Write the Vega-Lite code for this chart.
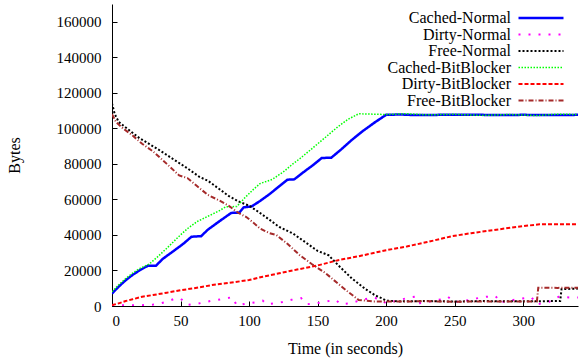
{
  "$schema": "https://vega.github.io/schema/vega-lite/v6.json",
  "width": 466,
  "height": 302,
  "autosize": {"type": "none"},
  "padding": {"left": 112, "top": 4, "right": 1, "bottom": 54},
  "background": "white",
  "config": {
    "view": {"stroke": null},
    "font": "Liberation Serif",
    "axis": {
      "grid": false,
      "domainColor": "black",
      "domainWidth": 1,
      "tickColor": "black",
      "labelFont": "Liberation Serif",
      "labelFontSize": 15,
      "labelColor": "black",
      "titleFont": "Liberation Serif",
      "titleFontSize": 16,
      "titleFontWeight": "normal",
      "titleColor": "black"
    },
    "legend": {
      "labelFont": "Liberation Serif",
      "labelFontSize": 16,
      "labelColor": "black"
    }
  },
  "datasets": {
    "mem": [
      {"s": "Cached-Normal", "t": 0, "v": 7000}, {"s": "Cached-Normal", "t": 5, "v": 11000}, {"s": "Cached-Normal", "t": 10, "v": 14500}, {"s": "Cached-Normal", "t": 15, "v": 17500}, {"s": "Cached-Normal", "t": 20, "v": 20000}, {"s": "Cached-Normal", "t": 26, "v": 22600}, {"s": "Cached-Normal", "t": 32, "v": 22600}, {"s": "Cached-Normal", "t": 37, "v": 26500}, {"s": "Cached-Normal", "t": 45, "v": 31000}, {"s": "Cached-Normal", "t": 52, "v": 35000}, {"s": "Cached-Normal", "t": 58, "v": 39000}, {"s": "Cached-Normal", "t": 65, "v": 39300}, {"s": "Cached-Normal", "t": 70, "v": 43000}, {"s": "Cached-Normal", "t": 78, "v": 47500}, {"s": "Cached-Normal", "t": 87, "v": 52400}, {"s": "Cached-Normal", "t": 93, "v": 52600}, {"s": "Cached-Normal", "t": 96, "v": 55500}, {"s": "Cached-Normal", "t": 102, "v": 56100}, {"s": "Cached-Normal", "t": 108, "v": 59100}, {"s": "Cached-Normal", "t": 115, "v": 63000}, {"s": "Cached-Normal", "t": 122, "v": 67400}, {"s": "Cached-Normal", "t": 128, "v": 71100}, {"s": "Cached-Normal", "t": 133, "v": 71300}, {"s": "Cached-Normal", "t": 140, "v": 75500}, {"s": "Cached-Normal", "t": 147, "v": 79500}, {"s": "Cached-Normal", "t": 153, "v": 83300}, {"s": "Cached-Normal", "t": 160, "v": 83500}, {"s": "Cached-Normal", "t": 167, "v": 88000}, {"s": "Cached-Normal", "t": 175, "v": 93500}, {"s": "Cached-Normal", "t": 183, "v": 98500}, {"s": "Cached-Normal", "t": 192, "v": 103500}, {"s": "Cached-Normal", "t": 200, "v": 107600}, {"s": "Cached-Normal", "t": 210, "v": 107800}, {"s": "Cached-Normal", "t": 220, "v": 107500}, {"s": "Cached-Normal", "t": 240, "v": 107600}, {"s": "Cached-Normal", "t": 260, "v": 107700}, {"s": "Cached-Normal", "t": 280, "v": 107500}, {"s": "Cached-Normal", "t": 300, "v": 107600}, {"s": "Cached-Normal", "t": 320, "v": 107500}, {"s": "Cached-Normal", "t": 340, "v": 107600},

      {"s": "Dirty-Normal", "t": 0, "v": 300}, {"s": "Dirty-Normal", "t": 10, "v": 500}, {"s": "Dirty-Normal", "t": 20, "v": 400}, {"s": "Dirty-Normal", "t": 30, "v": 800}, {"s": "Dirty-Normal", "t": 35, "v": 1500}, {"s": "Dirty-Normal", "t": 40, "v": 2400}, {"s": "Dirty-Normal", "t": 45, "v": 3900}, {"s": "Dirty-Normal", "t": 50, "v": 4200}, {"s": "Dirty-Normal", "t": 55, "v": 600}, {"s": "Dirty-Normal", "t": 62, "v": 1200}, {"s": "Dirty-Normal", "t": 68, "v": 2200}, {"s": "Dirty-Normal", "t": 73, "v": 3000}, {"s": "Dirty-Normal", "t": 80, "v": 3800}, {"s": "Dirty-Normal", "t": 88, "v": 5000}, {"s": "Dirty-Normal", "t": 91, "v": 300}, {"s": "Dirty-Normal", "t": 97, "v": 1200}, {"s": "Dirty-Normal", "t": 104, "v": 2000}, {"s": "Dirty-Normal", "t": 110, "v": 3000}, {"s": "Dirty-Normal", "t": 113, "v": 1000}, {"s": "Dirty-Normal", "t": 123, "v": 2000}, {"s": "Dirty-Normal", "t": 131, "v": 3500}, {"s": "Dirty-Normal", "t": 138, "v": 4400}, {"s": "Dirty-Normal", "t": 142, "v": 1000}, {"s": "Dirty-Normal", "t": 149, "v": 1500}, {"s": "Dirty-Normal", "t": 156, "v": 2500}, {"s": "Dirty-Normal", "t": 163, "v": 3500}, {"s": "Dirty-Normal", "t": 167, "v": 1000}, {"s": "Dirty-Normal", "t": 174, "v": 1500}, {"s": "Dirty-Normal", "t": 180, "v": 3000}, {"s": "Dirty-Normal", "t": 190, "v": 4800}, {"s": "Dirty-Normal", "t": 195, "v": 4000}, {"s": "Dirty-Normal", "t": 200, "v": 1500}, {"s": "Dirty-Normal", "t": 208, "v": 3000}, {"s": "Dirty-Normal", "t": 217, "v": 4800}, {"s": "Dirty-Normal", "t": 221, "v": 5200}, {"s": "Dirty-Normal", "t": 224, "v": 1500}, {"s": "Dirty-Normal", "t": 232, "v": 2500}, {"s": "Dirty-Normal", "t": 241, "v": 3900}, {"s": "Dirty-Normal", "t": 245, "v": 5200}, {"s": "Dirty-Normal", "t": 250, "v": 2200}, {"s": "Dirty-Normal", "t": 258, "v": 3000}, {"s": "Dirty-Normal", "t": 266, "v": 4300}, {"s": "Dirty-Normal", "t": 273, "v": 5200}, {"s": "Dirty-Normal", "t": 280, "v": 5500}, {"s": "Dirty-Normal", "t": 283, "v": 2000}, {"s": "Dirty-Normal", "t": 290, "v": 3000}, {"s": "Dirty-Normal", "t": 297, "v": 3900}, {"s": "Dirty-Normal", "t": 306, "v": 4900}, {"s": "Dirty-Normal", "t": 310, "v": 1000}, {"s": "Dirty-Normal", "t": 318, "v": 2000}, {"s": "Dirty-Normal", "t": 326, "v": 5200}, {"s": "Dirty-Normal", "t": 334, "v": 4800}, {"s": "Dirty-Normal", "t": 340, "v": 4800},

      {"s": "Free-Normal", "t": 0, "v": 114000}, {"s": "Free-Normal", "t": 2, "v": 108000}, {"s": "Free-Normal", "t": 5, "v": 103500}, {"s": "Free-Normal", "t": 10, "v": 100500}, {"s": "Free-Normal", "t": 15, "v": 97500}, {"s": "Free-Normal", "t": 20, "v": 94500}, {"s": "Free-Normal", "t": 27, "v": 91300}, {"s": "Free-Normal", "t": 35, "v": 87500}, {"s": "Free-Normal", "t": 45, "v": 82500}, {"s": "Free-Normal", "t": 55, "v": 77500}, {"s": "Free-Normal", "t": 64, "v": 72600}, {"s": "Free-Normal", "t": 70, "v": 70500}, {"s": "Free-Normal", "t": 78, "v": 66000}, {"s": "Free-Normal", "t": 85, "v": 62000}, {"s": "Free-Normal", "t": 93, "v": 58600}, {"s": "Free-Normal", "t": 100, "v": 56500}, {"s": "Free-Normal", "t": 107, "v": 52900}, {"s": "Free-Normal", "t": 115, "v": 48500}, {"s": "Free-Normal", "t": 122, "v": 44500}, {"s": "Free-Normal", "t": 132, "v": 40800}, {"s": "Free-Normal", "t": 140, "v": 36500}, {"s": "Free-Normal", "t": 150, "v": 31000}, {"s": "Free-Normal", "t": 158, "v": 28600}, {"s": "Free-Normal", "t": 165, "v": 23000}, {"s": "Free-Normal", "t": 175, "v": 15500}, {"s": "Free-Normal", "t": 185, "v": 9500}, {"s": "Free-Normal", "t": 192, "v": 6000}, {"s": "Free-Normal", "t": 197, "v": 4300}, {"s": "Free-Normal", "t": 200, "v": 3000}, {"s": "Free-Normal", "t": 210, "v": 2600}, {"s": "Free-Normal", "t": 230, "v": 2800}, {"s": "Free-Normal", "t": 250, "v": 2500}, {"s": "Free-Normal", "t": 270, "v": 2800}, {"s": "Free-Normal", "t": 290, "v": 2600}, {"s": "Free-Normal", "t": 310, "v": 2700}, {"s": "Free-Normal", "t": 327, "v": 2800}, {"s": "Free-Normal", "t": 328, "v": 9500}, {"s": "Free-Normal", "t": 340, "v": 9800},

      {"s": "Cached-BitBlocker", "t": 0, "v": 8000}, {"s": "Cached-BitBlocker", "t": 5, "v": 12000}, {"s": "Cached-BitBlocker", "t": 10, "v": 15500}, {"s": "Cached-BitBlocker", "t": 15, "v": 18500}, {"s": "Cached-BitBlocker", "t": 20, "v": 21000}, {"s": "Cached-BitBlocker", "t": 27, "v": 23500}, {"s": "Cached-BitBlocker", "t": 33, "v": 27500}, {"s": "Cached-BitBlocker", "t": 40, "v": 32500}, {"s": "Cached-BitBlocker", "t": 49, "v": 39300}, {"s": "Cached-BitBlocker", "t": 55, "v": 43500}, {"s": "Cached-BitBlocker", "t": 62, "v": 47500}, {"s": "Cached-BitBlocker", "t": 70, "v": 50500}, {"s": "Cached-BitBlocker", "t": 78, "v": 53500}, {"s": "Cached-BitBlocker", "t": 83, "v": 55800}, {"s": "Cached-BitBlocker", "t": 91, "v": 56000}, {"s": "Cached-BitBlocker", "t": 97, "v": 61000}, {"s": "Cached-BitBlocker", "t": 103, "v": 65500}, {"s": "Cached-BitBlocker", "t": 108, "v": 68900}, {"s": "Cached-BitBlocker", "t": 117, "v": 71300}, {"s": "Cached-BitBlocker", "t": 125, "v": 75500}, {"s": "Cached-BitBlocker", "t": 132, "v": 80000}, {"s": "Cached-BitBlocker", "t": 137, "v": 82900}, {"s": "Cached-BitBlocker", "t": 145, "v": 88000}, {"s": "Cached-BitBlocker", "t": 155, "v": 94500}, {"s": "Cached-BitBlocker", "t": 165, "v": 101000}, {"s": "Cached-BitBlocker", "t": 172, "v": 105000}, {"s": "Cached-BitBlocker", "t": 180, "v": 108200}, {"s": "Cached-BitBlocker", "t": 190, "v": 108000}, {"s": "Cached-BitBlocker", "t": 200, "v": 107800}, {"s": "Cached-BitBlocker", "t": 215, "v": 108200}, {"s": "Cached-BitBlocker", "t": 230, "v": 107600}, {"s": "Cached-BitBlocker", "t": 250, "v": 107900}, {"s": "Cached-BitBlocker", "t": 270, "v": 107300}, {"s": "Cached-BitBlocker", "t": 290, "v": 107800}, {"s": "Cached-BitBlocker", "t": 310, "v": 107200}, {"s": "Cached-BitBlocker", "t": 325, "v": 108000}, {"s": "Cached-BitBlocker", "t": 340, "v": 107800},

      {"s": "Dirty-BitBlocker", "t": 0, "v": 500}, {"s": "Dirty-BitBlocker", "t": 5, "v": 1500}, {"s": "Dirty-BitBlocker", "t": 10, "v": 2800}, {"s": "Dirty-BitBlocker", "t": 15, "v": 3800}, {"s": "Dirty-BitBlocker", "t": 22, "v": 5200}, {"s": "Dirty-BitBlocker", "t": 30, "v": 6200}, {"s": "Dirty-BitBlocker", "t": 40, "v": 7500}, {"s": "Dirty-BitBlocker", "t": 51, "v": 9000}, {"s": "Dirty-BitBlocker", "t": 60, "v": 10000}, {"s": "Dirty-BitBlocker", "t": 73, "v": 11800}, {"s": "Dirty-BitBlocker", "t": 85, "v": 13000}, {"s": "Dirty-BitBlocker", "t": 100, "v": 14600}, {"s": "Dirty-BitBlocker", "t": 110, "v": 16500}, {"s": "Dirty-BitBlocker", "t": 122, "v": 18400}, {"s": "Dirty-BitBlocker", "t": 135, "v": 20500}, {"s": "Dirty-BitBlocker", "t": 151, "v": 23000}, {"s": "Dirty-BitBlocker", "t": 165, "v": 25800}, {"s": "Dirty-BitBlocker", "t": 180, "v": 28000}, {"s": "Dirty-BitBlocker", "t": 190, "v": 29700}, {"s": "Dirty-BitBlocker", "t": 200, "v": 31400}, {"s": "Dirty-BitBlocker", "t": 215, "v": 33500}, {"s": "Dirty-BitBlocker", "t": 230, "v": 36000}, {"s": "Dirty-BitBlocker", "t": 248, "v": 39300}, {"s": "Dirty-BitBlocker", "t": 262, "v": 41000}, {"s": "Dirty-BitBlocker", "t": 278, "v": 42700}, {"s": "Dirty-BitBlocker", "t": 295, "v": 44500}, {"s": "Dirty-BitBlocker", "t": 312, "v": 46000}, {"s": "Dirty-BitBlocker", "t": 325, "v": 46000}, {"s": "Dirty-BitBlocker", "t": 340, "v": 46000},

      {"s": "Free-BitBlocker", "t": 0, "v": 108000}, {"s": "Free-BitBlocker", "t": 3, "v": 103500}, {"s": "Free-BitBlocker", "t": 8, "v": 100000}, {"s": "Free-BitBlocker", "t": 15, "v": 96000}, {"s": "Free-BitBlocker", "t": 22, "v": 91300}, {"s": "Free-BitBlocker", "t": 30, "v": 87000}, {"s": "Free-BitBlocker", "t": 40, "v": 80000}, {"s": "Free-BitBlocker", "t": 49, "v": 73500}, {"s": "Free-BitBlocker", "t": 55, "v": 72000}, {"s": "Free-BitBlocker", "t": 62, "v": 67500}, {"s": "Free-BitBlocker", "t": 70, "v": 62500}, {"s": "Free-BitBlocker", "t": 78, "v": 59500}, {"s": "Free-BitBlocker", "t": 85, "v": 56500}, {"s": "Free-BitBlocker", "t": 92, "v": 52500}, {"s": "Free-BitBlocker", "t": 98, "v": 50100}, {"s": "Free-BitBlocker", "t": 103, "v": 47000}, {"s": "Free-BitBlocker", "t": 108, "v": 43600}, {"s": "Free-BitBlocker", "t": 115, "v": 41000}, {"s": "Free-BitBlocker", "t": 120, "v": 39900}, {"s": "Free-BitBlocker", "t": 128, "v": 35000}, {"s": "Free-BitBlocker", "t": 137, "v": 28600}, {"s": "Free-BitBlocker", "t": 146, "v": 23500}, {"s": "Free-BitBlocker", "t": 156, "v": 18400}, {"s": "Free-BitBlocker", "t": 165, "v": 12500}, {"s": "Free-BitBlocker", "t": 173, "v": 7500}, {"s": "Free-BitBlocker", "t": 180, "v": 3400}, {"s": "Free-BitBlocker", "t": 190, "v": 2600}, {"s": "Free-BitBlocker", "t": 210, "v": 2500}, {"s": "Free-BitBlocker", "t": 230, "v": 2700}, {"s": "Free-BitBlocker", "t": 250, "v": 2400}, {"s": "Free-BitBlocker", "t": 270, "v": 2600}, {"s": "Free-BitBlocker", "t": 290, "v": 2500}, {"s": "Free-BitBlocker", "t": 310, "v": 2600}, {"s": "Free-BitBlocker", "t": 311, "v": 10300}, {"s": "Free-BitBlocker", "t": 325, "v": 10200}, {"s": "Free-BitBlocker", "t": 340, "v": 10300}
    ]
  },
  "data": {"name": "mem"},
  "mark": {"type": "line", "clip": true},
  "encoding": {
    "x": {
      "field": "t", "type": "quantitative",
      "scale": {"domain": [0, 340], "nice": false, "zero": false},
      "axis": {"title": "Time (in seconds)", "values": [0, 50, 100, 150, 200, 250, 300], "tickSize": -5, "labelPadding": 12, "titlePadding": 12}
    },
    "y": {
      "field": "v", "type": "quantitative",
      "scale": {"domain": [0, 170000], "nice": false},
      "axis": {"title": "Bytes", "values": [0, 20000, 40000, 60000, 80000, 100000, 120000, 140000, 160000], "format": "d", "tickSize": -5, "labelPadding": 16, "titlePadding": 34}
    },
    "color": {
      "field": "s", "type": "nominal",
      "scale": {
        "domain": ["Cached-Normal", "Dirty-Normal", "Free-Normal", "Cached-BitBlocker", "Dirty-BitBlocker", "Free-BitBlocker"],
        "range": ["#0000ff", "#ff00ff", "#000000", "#00ff00", "#ff0000", "#a52a2a"]
      },
      "legend": {
        "title": null, "orient": "none", "legendX": 421, "legendY": 6,
        "symbolType": "M-5,0H5", "symbolSize": 81, "rowPadding": 0.5,
        "labelAlign": "right", "labelOffset": -38, "padding": 0
      }
    },
    "strokeDash": {
      "field": "s", "type": "nominal",
      "scale": {
        "domain": ["Cached-Normal", "Dirty-Normal", "Free-Normal", "Cached-BitBlocker", "Dirty-BitBlocker", "Free-BitBlocker"],
        "range": [[1, 0], [2, 8], [2, 2], [1.5, 1.5], [4, 2], [5, 2, 1, 2]]
      },
      "legend": {
        "title": null, "orient": "none", "legendX": 421, "legendY": 6,
        "symbolType": "M-5,0H5", "symbolSize": 81, "rowPadding": 0.5,
        "labelAlign": "right", "labelOffset": -38, "padding": 0
      }
    },
    "strokeWidth": {
      "field": "s", "type": "nominal",
      "scale": {
        "type": "ordinal",
        "domain": ["Cached-Normal", "Dirty-Normal", "Free-Normal", "Cached-BitBlocker", "Dirty-BitBlocker", "Free-BitBlocker"],
        "range": [2.5, 2, 2, 1.5, 2, 2]
      },
      "legend": {
        "title": null, "orient": "none", "legendX": 421, "legendY": 6,
        "symbolType": "M-5,0H5", "symbolSize": 81, "rowPadding": 0.5,
        "labelAlign": "right", "labelOffset": -38, "padding": 0
      }
    }
  }
}
